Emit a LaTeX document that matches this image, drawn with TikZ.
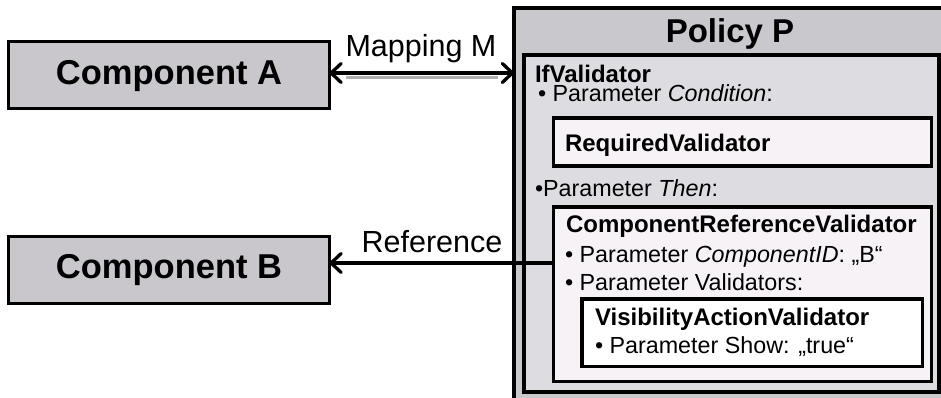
\documentclass[tikz,border=0pt]{standalone}
\usepackage{fontspec}
\setmainfont{Liberation Sans}
\usetikzlibrary{arrows.meta}
\definecolor{outerfill}{RGB}{201,200,205}
\definecolor{iffill}{RGB}{221,220,225}
\definecolor{lightfill}{RGB}{246,242,246}
\definecolor{compfill}{RGB}{201,199,204}
\definecolor{shadowgray}{RGB}{175,175,178}
\begin{document}
\begin{tikzpicture}[x=1pt,y=-1pt,
  box/.style={draw=black, line width=3.3pt, inner sep=0pt, outer sep=0pt, anchor=north west},
  txt/.style={anchor=base west, inner sep=0pt, outer sep=0pt, font=\fontsize{23.3}{27}\selectfont},
  btxt/.style={anchor=base west, inner sep=0pt, outer sep=0pt, font=\fontsize{24}{28}\selectfont\bfseries},
  comptxt/.style={font=\fontsize{34.5}{38}\selectfont\bfseries},
  lbl/.style={anchor=base, inner sep=0pt, font=\fontsize{30.5}{34}\selectfont},
  tip/.tip={Straight Barb[length=10pt,width=19pt,line cap=round,line join=round]},
  conn/.style={line width=3.3pt, tip-tip},
  refconn/.style={line width=3.3pt, -tip},
  shadowline/.style={line width=2.5pt, shadowgray}
]
\useasboundingbox (0,0) rectangle (941,398);
% components
\node[box, fill=compfill, minimum width=321pt, minimum height=67pt] (A) at (8.5,41.5) {};
\node[comptxt] (Atxt) at ([yshift=-1.5pt]A.center) {Component A};
\node[box, fill=compfill, minimum width=321pt, minimum height=67pt] (B) at (8.5,236.5) {};
\node[comptxt] (Btxt) at ([yshift=0pt]B.center) {Component B};
% policy
\node[box, line width=4pt, fill=outerfill, minimum width=432pt, minimum height=410pt] (policy) at (514,8) {};
\node[anchor=base, inner sep=0pt, font=\fontsize{33}{38}\selectfont\bfseries] (ptitle) at (730,43) {Policy P};
\node[box, fill=iffill, minimum width=415pt, minimum height=337pt] (ifv) at (524,55) {};
\node[btxt] (iftitle) at (535,82.5) {IfValidator};
\node[txt] (cond) at (538,102) {• Parameter \textit{Condition}:};
\node[box, fill=lightfill, minimum width=378pt, minimum height=48pt] (rv) at (553.5,118) {};
\node[btxt] (rvtxt) at (565,152) {RequiredValidator};
\node[txt] (then) at (535,196) {•Parameter \textit{Then}:};
\node[box, fill=lightfill, minimum width=378pt, minimum height=174.5pt] (crv) at (553.5,207) {};
\node[btxt] (crvtitle) at (566,232) {ComponentReferenceValidator};
\node[txt] (cid) at (565,262) {• Parameter \textit{ComponentID}: „B“};
\node[txt] (vals) at (565,290) {• Parameter Validators:};
\node[box, fill=white, minimum width=340.5pt, minimum height=67.5pt] (vav) at (582,299) {};
\node[btxt] (vavtitle) at (595,325) {VisibilityActionValidator};
\node[txt] (show) at (595,353) {• Parameter Show: „true“};
% connectors
\coordinate (mapstart) at (A.east |- 0,73);
\draw[shadowline] ([shift={(16,4.5)}]mapstart) -- ([shift={(-16,4.5)}]mapstart -| policy.west);
\draw[conn] (mapstart) -- (mapstart -| policy.west);
\node[lbl] (maplbl) at (421,57) {Mapping M};
\coordinate (refstart) at (553.5,263);
\draw[refconn] (refstart) -- (refstart -| B.east);
\node[lbl] (reflbl) at (432,252) {Reference};
\end{tikzpicture}
\end{document}
